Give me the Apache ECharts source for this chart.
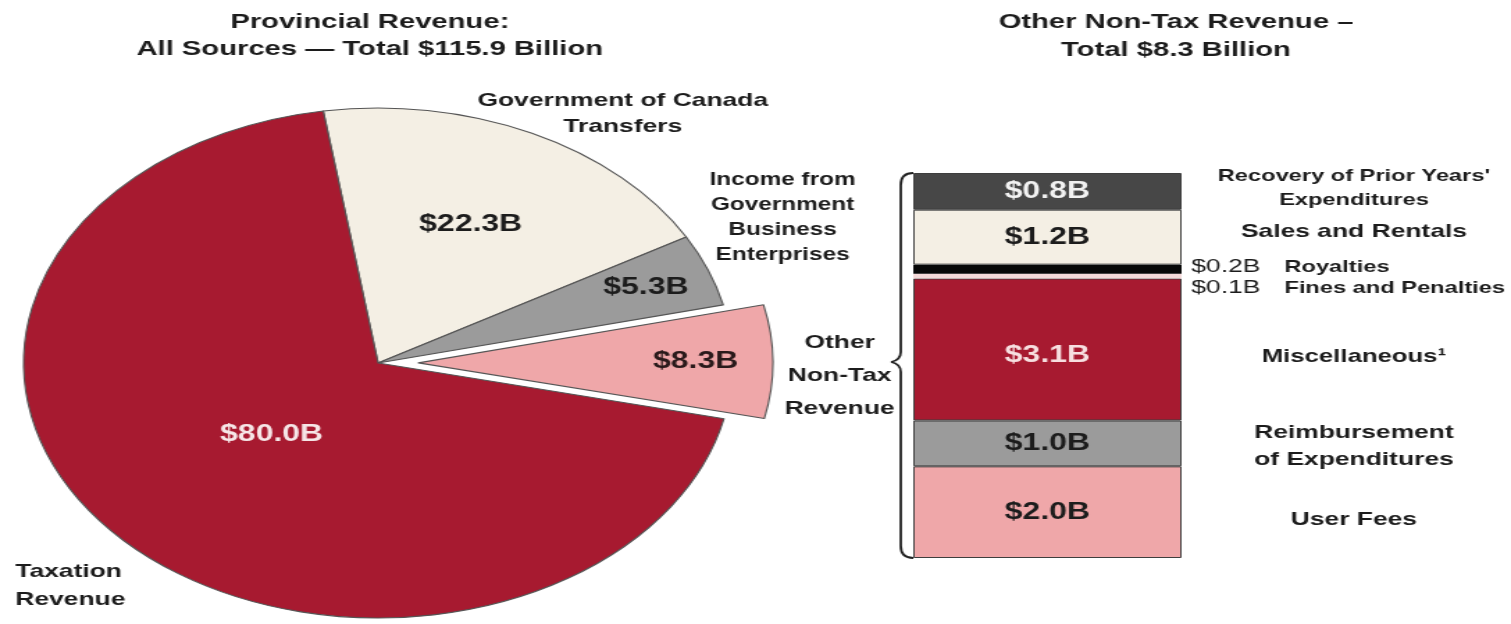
<!DOCTYPE html>
<html>
<head>
<meta charset="utf-8">
<script src="https://cdn.jsdelivr.net/npm/echarts@6/dist/echarts.min.js"></script>
<style>
  html, body { margin: 0; padding: 0; background: #ffffff; overflow: hidden; }
  #stage { width: 1511px; height: 624px; overflow: hidden; }
  /* the whole figure is laid out narrow and widened horizontally */
  #chart { width: 1087px; height: 624px; transform: scaleX(1.39006); transform-origin: 0 0; }
</style>
</head>
<body>
<div id="stage"><div id="chart"></div></div>
<script>
// Provincial revenue, all sources (billions of dollars)
const revenueSources = [
  'Government of Canada Transfers',
  'Income from Government Business Enterprises',
  'Other Non-Tax Revenue',
  'Taxation Revenue'
];
const revenueValues = [22.3, 5.3, 8.3, 80.0];
const revenueTotal = 115.9;
const revenueCaptions = [
  'Government of Canada\nTransfers',
  'Income from\nGovernment\nBusiness\nEnterprises',
  'Other\nNon-Tax\nRevenue',
  'Taxation\nRevenue'
];

// Other non-tax revenue, stacked from the bottom up (billions of dollars)
const nonTaxItems = [
  'User Fees',
  'Reimbursement of Expenditures',
  'Miscellaneous',
  'Fines and Penalties',
  'Royalties',
  'Sales and Rentals',
  "Recovery of Prior Years' Expenditures"
];
const nonTaxValues = [2.0, 1.0, 3.1, 0.1, 0.2, 1.2, 0.8];
const nonTaxTotal = 8.3;
const nonTaxCaptions = [
  'User Fees',
  'Reimbursement\nof Expenditures',
  'Miscellaneous\u00b9',
  'Fines and Penalties',
  'Royalties',
  'Sales and Rentals',
  "Recovery of Prior Years'\nExpenditures"
];

const FONT = '"Liberation Sans", Arial, Helvetica, sans-serif';
const money = v => '$' + v.toFixed(1) + 'B';

// ---- styling ----
const CRIMSON = '#A71A30', CREAM = '#F4EFE4', GREY = '#9B9B9B', PINK = '#EFA7A9';
const pieColors = [CREAM, GREY, PINK, CRIMSON];
const pieLabelColors = ['#1c1c1c', '#1c1c1c', '#2a1a1b', '#f6e6e7'];
const pieLabelRadius = [0.59, 0.80, 0.77, 0.40];   // fraction of the radius along each slice's middle
const PIE_CENTER = [272, 363], PIE_R = 255, PIE_START = 98.9, EXPLODE = 29;

const barColors = [PINK, GREY, CRIMSON, '#F5DADA', '#080808', CREAM, '#474747'];
const barLabelColors = ['#1c1c1c', '#1c1c1c', '#f7dfe0', null, null, '#1c1c1c', '#f2f2f2'];
const barBorder = [1, 1, 1, 0, 0, 1, 1];
const captionShift = [8, 3, 7, 12, -2, -5, -3];
const captionSize = [19, 19, 18.5, 17, 17, 19, 17];
const captionLine = [24, 27, 24, 22, 22, 24, 24];
const outsideValue = [false, false, false, true, true, false, false];

const HEIGHT = 624;
const GRID = { left: 657, width: 193, top: 173, bottom: 66 };
const CAPTION_X = 974;

// middle angle of every slice, following the pie's own clockwise layout
const midAngles = [];
(function () {
  const sum = revenueValues.reduce((a, b) => a + b, 0);
  let a = PIE_START;
  revenueValues.forEach(v => {
    const span = v / sum * 360;
    midAngles.push(a - span / 2);
    a -= span;
  });
})();

const stackMax = nonTaxValues.reduce((a, b) => a + b, 0);

const chart = echarts.init(document.getElementById('chart'), null, { renderer: 'canvas' });

const pieSeries = {
  type: 'pie',
  center: PIE_CENTER,
  radius: PIE_R,
  startAngle: PIE_START,
  clockwise: true,
  selectedMode: 'single',
  selectedOffset: EXPLODE,
  avoidLabelOverlap: false,
  animation: false,
  emphasis: { disabled: true },
  itemStyle: { borderColor: '#555555', borderWidth: 1.1 },
  label: {
    show: true,
    position: 'inside',
    formatter: p => money(p.value),
    fontFamily: FONT,
    fontWeight: 'bold',
    fontSize: 23
  },
  labelLine: { show: false },
  labelLayout: p => {
    const i = p.dataIndex;
    const t = midAngles[i] * Math.PI / 180;
    const k = (pieLabelRadius[i] - 0.5) * PIE_R;
    return { dx: k * Math.cos(t), dy: -k * Math.sin(t) };
  },
  data: revenueSources.map((name, i) => ({
    name,
    value: revenueValues[i],
    selected: i === 2,
    itemStyle: { color: pieColors[i] },
    select: { itemStyle: { color: pieColors[i], borderColor: '#555555', borderWidth: 1.1 } },
    label: { color: pieLabelColors[i] }
  }))
};

// coloured segments with their values inside
const segmentSeries = nonTaxItems.map((name, i) => ({
  type: 'bar',
  name,
  stack: 'segments',
  barWidth: '100%',
  barGap: '-100%',
  animation: false,
  emphasis: { disabled: true },
  itemStyle: { color: barColors[i], borderColor: '#3e3e3e', borderWidth: barBorder[i] },
  label: {
    show: !outsideValue[i],
    position: 'inside',
    formatter: p => money(p.value),
    fontFamily: FONT,
    fontWeight: 'bold',
    fontSize: 23,
    color: barLabelColors[i] || '#000',
    offset: [0, i === 2 ? 6 : 0]
  },
  data: [nonTaxValues[i]]
}));

// matching invisible stack that carries the category captions on the right
const captionSeries = nonTaxItems.map((name, i) => ({
  type: 'bar',
  name: name + ' caption',
  stack: 'captions',
  barWidth: '100%',
  barGap: '-100%',
  animation: false,
  silent: true,
  emphasis: { disabled: true },
  itemStyle: { color: 'rgba(0,0,0,0)', borderWidth: 0 },
  label: outsideValue[i] ? {
    show: true,
    position: 'right',
    distance: 7,
    align: 'left',
    offset: [0, captionShift[i]],
    formatter: p => '{v|' + money(p.value) + '}{n|' + nonTaxCaptions[i] + '}',
    rich: {
      v: { fontFamily: FONT, fontSize: 19, fontWeight: 'normal', color: '#1c1c1c', width: 67 },
      n: { fontFamily: FONT, fontSize: captionSize[i], fontWeight: 'bold', color: '#1c1c1c' }
    }
  } : {
    show: true,
    position: 'right',
    distance: CAPTION_X - (GRID.left + GRID.width),
    align: 'center',
    offset: [0, captionShift[i]],
    formatter: nonTaxCaptions[i],
    fontFamily: FONT,
    fontWeight: 'bold',
    fontSize: captionSize[i],
    lineHeight: captionLine[i],
    color: '#1c1c1c'
  },
  data: [nonTaxValues[i]]
}));

function textEl(text, x, y, size, lineHeight, align) {
  return {
    type: 'text',
    x, y,
    silent: true,
    style: {
      text,
      fill: '#1c1c1c',
      font: 'bold ' + size + 'px ' + FONT,
      lineHeight,
      align: align || 'center',
      verticalAlign: 'middle'
    }
  };
}

const captionPos = [[448, 114, 19, 26, 'center'], [563, 217.5, 17.5, 25, 'center'], [604, 375.5, 19, 33, 'center'], [11, 586, 19, 28, 'left']];

const textGraphics = [
  textEl('Provincial Revenue:\nAll Sources \u2014 Total $' + revenueTotal.toFixed(1) + ' Billion', 266, 35.5, 21, 27),
  textEl('Other Non-Tax Revenue \u2013\nTotal $' + nonTaxTotal.toFixed(1) + ' Billion', 846, 36, 21, 28)
].concat(revenueCaptions.map((c, i) => textEl(c, captionPos[i][0], captionPos[i][1], captionPos[i][2], captionPos[i][3], captionPos[i][4])));

// curly brace along the left edge of the stacked bar, pointing at the exploded slice
const yTop = GRID.top, yBot = HEIGHT - GRID.bottom;
const xEdge = GRID.left, xLine = GRID.left - 9, xTip = GRID.left - 16;
const yMid = 362;
const braceStyle = { fill: 'none', stroke: '#222222', lineWidth: 1.8 };
const curve = (x1, y1, cx, cy, x2, y2) => ({
  type: 'bezierCurve', silent: true,
  shape: { x1, y1, cpx1: cx, cpy1: cy, x2, y2 },
  style: braceStyle
});
const seg = (x1, y1, x2, y2) => ({
  type: 'line', silent: true,
  shape: { x1, y1, x2, y2 },
  style: braceStyle
});
const brace = [
  curve(xEdge, yTop, xLine, yTop, xLine, yTop + 12),
  seg(xLine, yTop + 12, xLine, yMid - 10),
  curve(xLine, yMid - 10, xLine, yMid - 2, xTip, yMid),
  curve(xTip, yMid, xLine, yMid + 2, xLine, yMid + 10),
  seg(xLine, yMid + 10, xLine, yBot - 12),
  curve(xLine, yBot - 12, xLine, yBot, xEdge, yBot)
];

chart.setOption({
  backgroundColor: '#ffffff',
  animation: false,
  grid: { left: GRID.left, width: GRID.width, top: GRID.top, bottom: GRID.bottom, containLabel: false },
  xAxis: { type: 'category', data: ['Other Non-Tax Revenue'], show: false },
  yAxis: { type: 'value', min: 0, max: stackMax, show: false },
  series: [pieSeries].concat(segmentSeries, captionSeries),
  graphic: textGraphics.concat(brace)
});
</script>
</body>
</html>
